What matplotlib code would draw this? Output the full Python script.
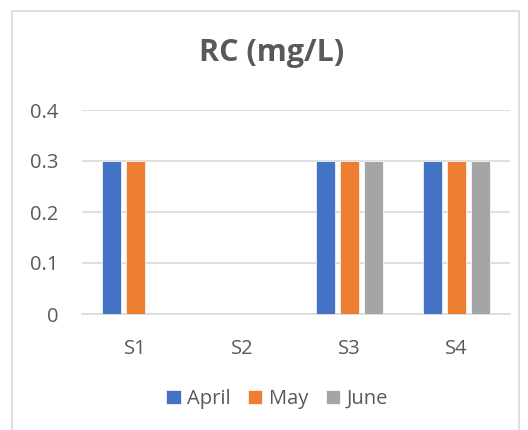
import numpy as np
import matplotlib.pyplot as plt
from matplotlib.patches import Rectangle

categories = ["S1", "S2", "S3", "S4"]
series = ["April", "May", "June"]
april = [0.3, 0.0, 0.3, 0.3]
may = [0.3, 0.0, 0.3, 0.3]
june = [0.0, 0.0, 0.3, 0.3]
colors = ["#4472C4", "#ED7D31", "#A5A5A5"]
yticks = [0, 0.1, 0.2, 0.3, 0.4]

plt.rcParams['font.family'] = ['Open Sans', 'DejaVu Sans']
text_color = "#595959"

fig = plt.figure(figsize=(5.28, 4.30), dpi=100)
# chart border
fig.patches.append(Rectangle((12 / 528, -0.01), (519 - 12) / 528, 1 - 11 / 430 + 0.01,
                             transform=fig.transFigure, fill=False,
                             edgecolor="#D9D9D9", linewidth=1.2))

ax = fig.add_axes([82 / 528, 1 - 314 / 430, (510 - 82) / 528, (314 - 110) / 430])

x = np.arange(len(categories))
width = 0.173
offsets = [-0.224, 0.0, 0.224]
for vals, name, col, off in zip([april, may, june], series, colors, offsets):
    ax.bar(x + off, vals, width, color=col, label=name,
           edgecolor="white", linewidth=0.5, zorder=3)

ax.set_xlim(-0.5, 3.5)
ax.set_ylim(0, 0.4)
ax.set_yticks(yticks)
ax.set_yticklabels(["0", "0.1", "0.2", "0.3", "0.4"])
ax.set_xticks(x)
ax.set_xticklabels(categories)
ax.yaxis.grid(True, color="#D9D9D9", linewidth=1.2, zorder=0)
for s in ["top", "right", "left"]:
    ax.spines[s].set_visible(False)
ax.spines["bottom"].set_color("#D9D9D9")
ax.spines["bottom"].set_linewidth(1.2)
ax.tick_params(axis="both", length=0, labelsize=14.5, colors=text_color)
ax.tick_params(axis="y", pad=17)
ax.tick_params(axis="x", pad=18)

fig.text(272 / 528, 1 - 53 / 430, "RC (mg/L)", ha="center", va="center",
         fontsize=22, fontweight="bold", color=text_color)

fig.legend(loc="center", bbox_to_anchor=(277 / 528, 1 - 399 / 430), ncol=3,
           frameon=False, fontsize=14.5, labelcolor=text_color,
           handlelength=0.7, handleheight=0.7, handletextpad=0.3,
           columnspacing=0.9)

fig.savefig("out.png", dpi=100)
